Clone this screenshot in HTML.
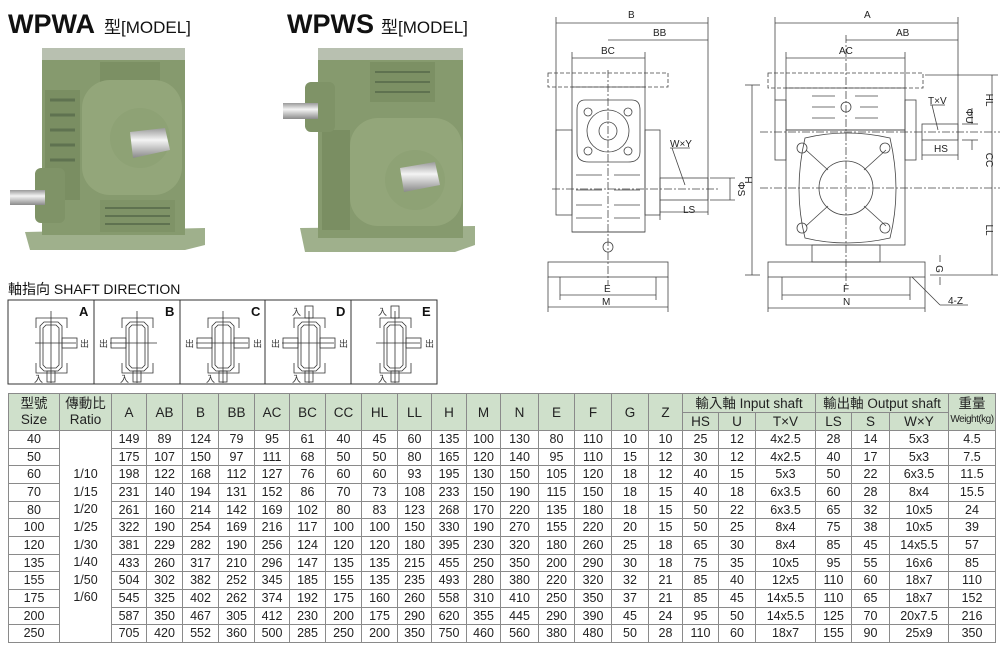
<!DOCTYPE html>
<html><head><meta charset="utf-8"><style>
body{margin:0;background:#fff;width:1000px;height:651px;overflow:hidden;position:relative;font-family:"Liberation Sans","Noto Sans CJK TC",sans-serif;}
svg{position:absolute;left:0;top:0}
table{position:absolute;left:8px;top:393px;border-collapse:collapse;table-layout:fixed;font-size:12.5px;color:#222}
td{border:1px solid #8a8a8a;text-align:center;padding:0;height:16.6px;line-height:15px;white-space:nowrap;overflow:hidden}
tr.h td{background:#cfe0cb;font-size:13.5px}
.sm{font-size:10px;letter-spacing:-0.5px}
.rat div{height:17.6px;line-height:17.6px}
</style></head><body>
<svg width="1000" height="651" viewBox="0 0 1000 651" font-family="Liberation Sans, Noto Sans CJK TC, sans-serif">
<defs>
<linearGradient id="sh" x1="0" y1="0" x2="0" y2="1"><stop offset="0" stop-color="#9a9a9a"/><stop offset=".4" stop-color="#f4f4f4"/><stop offset="1" stop-color="#8a8a8a"/></linearGradient>
<g id="gb" fill="none" stroke="#333" stroke-width="0.8">
<polyline points="-14,-15 -14,-25 17,-25 17,-15"/>
<polyline points="-14,20 -14,30 17,30 17,20"/>
<path d="M-6,-21 H8 L12,-17 V24 L8,28 H-6 L-10,24 V-17 Z"/>
<path d="M-4,-18 H6 L9,-15 V22 L6,25 H-4 L-7,22 V-15 Z"/>
<line x1="1" y1="-32" x2="1" y2="40"/>
</g>
</defs>
<!-- titles -->
<text x="8" y="33" font-size="27" font-weight="bold" fill="#111">WPWA</text>
<text x="104" y="33" font-size="17" fill="#111">型[MODEL]</text>
<text x="287" y="33" font-size="27" font-weight="bold" fill="#111">WPWS</text>
<text x="381" y="33" font-size="17" fill="#111">型[MODEL]</text>
<!-- left gearbox photo -->
<g>
<polygon points="25,232 205,228 205,245 185,250 30,250" fill="#9fb08c"/>
<rect x="42" y="55" width="143" height="180" fill="#869a6e"/>
<rect x="42" y="48" width="143" height="12" fill="#b8c0b0"/>
<rect x="100" y="62" width="60" height="22" fill="#7c9064"/>
<rect x="45" y="90" width="35" height="110" fill="#7a8e62"/>
<g stroke="#5f7250" stroke-width="3"><line x1="50" y1="100" x2="75" y2="100"/><line x1="50" y1="115" x2="75" y2="115"/><line x1="50" y1="130" x2="75" y2="130"/><line x1="50" y1="145" x2="75" y2="145"/><line x1="50" y1="160" x2="75" y2="160"/></g>
<rect x="82" y="80" width="100" height="115" rx="28" fill="#93a67a"/>
<circle cx="140" cy="138" r="30" fill="#8ea275"/>
<rect x="100" y="200" width="75" height="32" fill="#7f9367"/>
<g stroke="#5f7250" stroke-width="2"><line x1="105" y1="208" x2="170" y2="208"/><line x1="105" y1="216" x2="170" y2="216"/><line x1="105" y1="224" x2="170" y2="224"/></g>
<polygon points="130,132 165,128 170,150 133,158" fill="url(#sh)"/>
<rect x="35" y="168" width="30" height="55" rx="6" fill="#7f9367"/>
<rect x="10" y="190" width="35" height="15" fill="url(#sh)"/>
</g>
<!-- right gearbox photo -->
<g>
<polygon points="300,228 475,226 475,245 455,252 305,252" fill="#9fb08c"/>
<rect x="318" y="58" width="145" height="180" fill="#869a6e"/>
<rect x="318" y="48" width="145" height="12" fill="#b8c0b0"/>
<rect x="370" y="62" width="65" height="40" fill="#7c9064"/>
<g stroke="#5f7250" stroke-width="2"><line x1="375" y1="72" x2="430" y2="72"/><line x1="375" y1="82" x2="430" y2="82"/><line x1="375" y1="92" x2="430" y2="92"/></g>
<rect x="322" y="130" width="28" height="100" fill="#7a8e62"/>
<rect x="350" y="118" width="112" height="108" rx="28" fill="#93a67a"/>
<circle cx="415" cy="180" r="30" fill="#8ea275"/>
<polygon points="400,168 435,162 440,185 404,192" fill="url(#sh)"/>
<rect x="305" y="82" width="30" height="50" rx="6" fill="#7f9367"/>
<rect x="283" y="103" width="35" height="16" fill="url(#sh)"/>
</g>
<!-- shaft direction -->
<text x="8" y="294" font-size="14" fill="#111">軸指向 SHAFT DIRECTION</text>
<rect x="8" y="300" width="429" height="84" fill="none" stroke="#333" stroke-width="1"/>
<g stroke="#333" stroke-width="1"><line x1="94" y1="300" x2="94" y2="384"/><line x1="180" y1="300" x2="180" y2="384"/><line x1="265" y1="300" x2="265" y2="384"/><line x1="351" y1="300" x2="351" y2="384"/></g>
<g font-size="13" font-weight="bold" fill="#111"><text x="79" y="316">A</text><text x="165" y="316">B</text><text x="251" y="316">C</text><text x="336" y="316">D</text><text x="422" y="316">E</text></g>
<g font-size="9" fill="#333" stroke="none">
<!-- A -->
<use href="#gb" x="50" y="343"/>
<g fill="none" stroke="#333" stroke-width=".8"><line x1="35" y1="343" x2="76" y2="343"/><rect x="62" y="338" width="15" height="10"/><rect x="47" y="371" width="8" height="11"/></g>
<text x="80" y="347">出</text><text x="34" y="382">入</text>
<!-- B -->
<use href="#gb" x="136" y="343"/>
<g fill="none" stroke="#333" stroke-width=".8"><line x1="110" y1="343" x2="157" y2="343"/><rect x="111" y="338" width="15" height="10"/><rect x="133" y="371" width="8" height="11"/></g>
<text x="99" y="347">出</text><text x="120" y="382">入</text>
<!-- C -->
<use href="#gb" x="222" y="343"/>
<g fill="none" stroke="#333" stroke-width=".8"><line x1="196" y1="343" x2="248" y2="343"/><rect x="197" y="338" width="15" height="10"/><rect x="234" y="338" width="15" height="10"/><rect x="219" y="371" width="8" height="11"/></g>
<text x="185" y="347">出</text><text x="253" y="347">出</text><text x="206" y="382">入</text>
<!-- D -->
<use href="#gb" x="308" y="343"/>
<g fill="none" stroke="#333" stroke-width=".8"><line x1="282" y1="343" x2="334" y2="343"/><rect x="283" y="338" width="15" height="10"/><rect x="320" y="338" width="15" height="10"/><rect x="305" y="371" width="8" height="11"/><rect x="305" y="306" width="8" height="12"/></g>
<text x="271" y="347">出</text><text x="339" y="347">出</text><text x="292" y="382">入</text><text x="292" y="315">入</text>
<!-- E -->
<use href="#gb" x="394" y="343"/>
<g fill="none" stroke="#333" stroke-width=".8"><line x1="376" y1="343" x2="420" y2="343"/><rect x="406" y="338" width="15" height="10"/><rect x="391" y="371" width="8" height="11"/><rect x="391" y="306" width="8" height="12"/></g>
<text x="425" y="347">出</text><text x="378" y="382">入</text><text x="378" y="315">入</text>
</g>
<!-- front drawing -->
<g fill="none" stroke="#444" stroke-width="0.8">
<line x1="556" y1="17" x2="556" y2="160"/><line x1="708" y1="17" x2="708" y2="215"/>
<line x1="556" y1="23" x2="708" y2="23"/><line x1="608" y1="40" x2="708" y2="40"/><line x1="572" y1="58" x2="645" y2="58"/>
<line x1="572" y1="52" x2="572" y2="87"/><line x1="645" y1="52" x2="645" y2="87"/>
<rect x="548" y="73" width="120" height="14" stroke-dasharray="4 2"/>
<rect x="572" y="87" width="73" height="145"/>
<path d="M585,100 H632 Q640,100 640,110 V152 Q640,162 628,162 H589 Q577,162 577,152 V110 Q577,100 585,100 Z" fill="#fff"/>
<circle cx="608" cy="131" r="21"/><circle cx="608" cy="131" r="9"/>
<circle cx="588" cy="112" r="4"/><circle cx="628" cy="112" r="4"/><circle cx="588" cy="151" r="4"/><circle cx="628" cy="151" r="4"/>
<rect x="556" y="130" width="16" height="85"/><rect x="645" y="130" width="15" height="85"/>
<g><line x1="576" y1="175" x2="602" y2="175"/><line x1="614" y1="175" x2="640" y2="175"/><line x1="576" y1="190" x2="602" y2="190"/><line x1="614" y1="190" x2="640" y2="190"/><line x1="576" y1="205" x2="602" y2="205"/><line x1="614" y1="205" x2="640" y2="205"/><line x1="576" y1="218" x2="602" y2="218"/><line x1="614" y1="218" x2="640" y2="218"/></g>
<line x1="572" y1="232" x2="645" y2="232"/>
<rect x="548" y="262" width="120" height="15"/>
<circle cx="608" cy="247" r="5"/>
<rect x="660" y="178" width="48" height="22"/>
<line x1="608" y1="70" x2="608" y2="285" stroke-dasharray="8 2 2 2"/>
<line x1="552" y1="189" x2="720" y2="189" stroke-dasharray="8 2 2 2"/>
<line x1="710" y1="178" x2="735" y2="178"/><line x1="710" y1="200" x2="735" y2="200"/><line x1="730" y1="178" x2="730" y2="200"/>
<line x1="660" y1="212" x2="708" y2="212"/><line x1="660" y1="200" x2="660" y2="220"/>
<line x1="670" y1="148" x2="690" y2="148"/><line x1="672" y1="148" x2="685" y2="185"/>
<line x1="745" y1="85" x2="760" y2="85"/><line x1="745" y1="275" x2="760" y2="275"/><line x1="752" y1="85" x2="752" y2="275"/>
<line x1="548" y1="277" x2="548" y2="312"/><line x1="668" y1="277" x2="668" y2="312"/><line x1="560" y1="277" x2="560" y2="300"/><line x1="656" y1="277" x2="656" y2="300"/>
<line x1="560" y1="295" x2="656" y2="295"/><line x1="548" y1="307" x2="668" y2="307"/>
</g>
<g font-size="10" fill="#222">
<text x="628" y="18">B</text><text x="653" y="36">BB</text><text x="601" y="54">BC</text><text x="670" y="147">W×Y</text>
<text x="683" y="213">LS</text><text x="604" y="292">E</text><text x="602" y="305">M</text>
<text x="738" y="189" transform="rotate(90 738 189)" text-anchor="middle">ΦS</text>
<text x="745" y="180" transform="rotate(90 745 180)" text-anchor="middle">H</text>
</g>
<!-- side drawing -->
<g fill="none" stroke="#444" stroke-width="0.8">
<line x1="775" y1="17" x2="775" y2="100"/><line x1="958" y1="17" x2="958" y2="160"/>
<line x1="775" y1="23" x2="958" y2="23"/><line x1="846" y1="40" x2="958" y2="40"/><line x1="786" y1="58" x2="905" y2="58"/>
<line x1="786" y1="52" x2="786" y2="88"/><line x1="905" y1="52" x2="905" y2="88"/>
<rect x="768" y="73" width="155" height="15" stroke-dasharray="4 2"/>
<rect x="786" y="88" width="119" height="42"/>
<g><line x1="812" y1="96" x2="835" y2="96"/><line x1="855" y1="96" x2="878" y2="96"/><line x1="812" y1="107" x2="835" y2="107"/><line x1="860" y1="107" x2="878" y2="107"/><line x1="812" y1="118" x2="835" y2="118"/><line x1="855" y1="118" x2="878" y2="118"/></g>
<circle cx="846" cy="107" r="5"/>
<rect x="775" y="100" width="11" height="60"/><rect x="905" y="100" width="11" height="60"/>
<rect x="786" y="130" width="119" height="115"/>
<path d="M805,138 Q846,128 890,138 Q902,190 890,238 Q846,248 805,238 Q793,190 805,138 Z" fill="#fff"/>
<circle cx="846" cy="188" r="27"/>
<line x1="806" y1="150" x2="828" y2="170"/><line x1="886" y1="150" x2="864" y2="170"/><line x1="806" y1="226" x2="828" y2="206"/><line x1="886" y1="226" x2="864" y2="206"/>
<circle cx="802" cy="148" r="5"/><circle cx="885" cy="148" r="5"/><circle cx="802" cy="228" r="5"/><circle cx="885" cy="228" r="5"/>
<rect x="812" y="245" width="68" height="17"/>
<rect x="768" y="262" width="157" height="15"/>
<rect x="922" y="124" width="36" height="16"/>
<line x1="846" y1="35" x2="846" y2="285" stroke-dasharray="8 2 2 2"/>
<line x1="760" y1="132" x2="1000" y2="132" stroke-dasharray="8 2 2 2"/>
<line x1="760" y1="188" x2="1000" y2="188" stroke-dasharray="8 2 2 2"/>
<line x1="925" y1="75" x2="998" y2="75"/><line x1="930" y1="275" x2="998" y2="275"/>
<line x1="992" y1="75" x2="992" y2="275"/>
<line x1="972" y1="108" x2="972" y2="124"/><line x1="972" y1="140" x2="972" y2="150"/><line x1="962" y1="124" x2="978" y2="124"/><line x1="962" y1="140" x2="978" y2="140"/>
<line x1="922" y1="155" x2="958" y2="155"/><line x1="922" y1="140" x2="922" y2="160"/>
<line x1="930" y1="105" x2="945" y2="105"/><line x1="932" y1="105" x2="938" y2="130"/>
<line x1="940" y1="255" x2="940" y2="262"/><line x1="940" y1="277" x2="940" y2="285"/>
<line x1="782" y1="277" x2="782" y2="300"/><line x1="910" y1="277" x2="910" y2="300"/>
<line x1="768" y1="277" x2="768" y2="312"/><line x1="925" y1="277" x2="925" y2="312"/>
<line x1="782" y1="295" x2="910" y2="295"/><line x1="768" y1="308" x2="925" y2="308"/>
<line x1="912" y1="277" x2="940" y2="305"/><line x1="940" y1="305" x2="968" y2="305"/>
</g>
<g font-size="10" fill="#222">
<text x="864" y="18">A</text><text x="896" y="36">AB</text><text x="839" y="54">AC</text><text x="928" y="104">T×V</text>
<text x="934" y="152">HS</text><text x="843" y="292">F</text><text x="843" y="305">N</text><text x="948" y="304">4-Z</text>
<text x="986" y="100" transform="rotate(90 986 100)" text-anchor="middle">HL</text>
<text x="986" y="160" transform="rotate(90 986 160)" text-anchor="middle">CC</text>
<text x="986" y="230" transform="rotate(90 986 230)" text-anchor="middle">LL</text>
<text x="966" y="116" transform="rotate(90 966 116)" text-anchor="middle">ΦU</text>
<text x="936" y="269" transform="rotate(90 936 269)" text-anchor="middle">G</text>
</g>
</svg>
<table>
<colgroup><col style="width:51px"><col style="width:52px"><col style="width:35px"><col style="width:36px"><col style="width:36px"><col style="width:36px"><col style="width:35px"><col style="width:36px"><col style="width:36px"><col style="width:36px"><col style="width:34px"><col style="width:35px"><col style="width:34px"><col style="width:38px"><col style="width:36px"><col style="width:37px"><col style="width:37px"><col style="width:34px"><col style="width:36px"><col style="width:37px"><col style="width:60px"><col style="width:36px"><col style="width:38px"><col style="width:59px"><col style="width:47px"></colgroup>
<tr class="h" style="height:19px"><td rowspan="2" style="line-height:16px">型號<br>Size</td><td rowspan="2" style="line-height:16px">傳動比<br>Ratio</td><td rowspan="2">A</td><td rowspan="2">AB</td><td rowspan="2">B</td><td rowspan="2">BB</td><td rowspan="2">AC</td><td rowspan="2">BC</td><td rowspan="2">CC</td><td rowspan="2">HL</td><td rowspan="2">LL</td><td rowspan="2">H</td><td rowspan="2">M</td><td rowspan="2">N</td><td rowspan="2">E</td><td rowspan="2">F</td><td rowspan="2">G</td><td rowspan="2">Z</td><td colspan="3">輸入軸 Input shaft</td><td colspan="3">輸出軸 Output shaft</td><td rowspan="2" style="line-height:14px">重量<br><span class="sm">Weight(kg)</span></td></tr>
<tr class="h" style="height:18px"><td>HS</td><td>U</td><td>T×V</td><td>LS</td><td>S</td><td>W×Y</td></tr>
<tr><td>40</td><td rowspan="12" class="rat" style="vertical-align:top"><div></div><div></div><div>1/10</div><div>1/15</div><div>1/20</div><div>1/25</div><div>1/30</div><div>1/40</div><div>1/50</div><div>1/60</div><div></div><div></div></td><td>149</td><td>89</td><td>124</td><td>79</td><td>95</td><td>61</td><td>40</td><td>45</td><td>60</td><td>135</td><td>100</td><td>130</td><td>80</td><td>110</td><td>10</td><td>10</td><td>25</td><td>12</td><td>4x2.5</td><td>28</td><td>14</td><td>5x3</td><td>4.5</td></tr>
<tr><td>50</td><td>175</td><td>107</td><td>150</td><td>97</td><td>111</td><td>68</td><td>50</td><td>50</td><td>80</td><td>165</td><td>120</td><td>140</td><td>95</td><td>110</td><td>15</td><td>12</td><td>30</td><td>12</td><td>4x2.5</td><td>40</td><td>17</td><td>5x3</td><td>7.5</td></tr>
<tr><td>60</td><td>198</td><td>122</td><td>168</td><td>112</td><td>127</td><td>76</td><td>60</td><td>60</td><td>93</td><td>195</td><td>130</td><td>150</td><td>105</td><td>120</td><td>18</td><td>12</td><td>40</td><td>15</td><td>5x3</td><td>50</td><td>22</td><td>6x3.5</td><td>11.5</td></tr>
<tr><td>70</td><td>231</td><td>140</td><td>194</td><td>131</td><td>152</td><td>86</td><td>70</td><td>73</td><td>108</td><td>233</td><td>150</td><td>190</td><td>115</td><td>150</td><td>18</td><td>15</td><td>40</td><td>18</td><td>6x3.5</td><td>60</td><td>28</td><td>8x4</td><td>15.5</td></tr>
<tr><td>80</td><td>261</td><td>160</td><td>214</td><td>142</td><td>169</td><td>102</td><td>80</td><td>83</td><td>123</td><td>268</td><td>170</td><td>220</td><td>135</td><td>180</td><td>18</td><td>15</td><td>50</td><td>22</td><td>6x3.5</td><td>65</td><td>32</td><td>10x5</td><td>24</td></tr>
<tr><td>100</td><td>322</td><td>190</td><td>254</td><td>169</td><td>216</td><td>117</td><td>100</td><td>100</td><td>150</td><td>330</td><td>190</td><td>270</td><td>155</td><td>220</td><td>20</td><td>15</td><td>50</td><td>25</td><td>8x4</td><td>75</td><td>38</td><td>10x5</td><td>39</td></tr>
<tr><td>120</td><td>381</td><td>229</td><td>282</td><td>190</td><td>256</td><td>124</td><td>120</td><td>120</td><td>180</td><td>395</td><td>230</td><td>320</td><td>180</td><td>260</td><td>25</td><td>18</td><td>65</td><td>30</td><td>8x4</td><td>85</td><td>45</td><td>14x5.5</td><td>57</td></tr>
<tr><td>135</td><td>433</td><td>260</td><td>317</td><td>210</td><td>296</td><td>147</td><td>135</td><td>135</td><td>215</td><td>455</td><td>250</td><td>350</td><td>200</td><td>290</td><td>30</td><td>18</td><td>75</td><td>35</td><td>10x5</td><td>95</td><td>55</td><td>16x6</td><td>85</td></tr>
<tr><td>155</td><td>504</td><td>302</td><td>382</td><td>252</td><td>345</td><td>185</td><td>155</td><td>135</td><td>235</td><td>493</td><td>280</td><td>380</td><td>220</td><td>320</td><td>32</td><td>21</td><td>85</td><td>40</td><td>12x5</td><td>110</td><td>60</td><td>18x7</td><td>110</td></tr>
<tr><td>175</td><td>545</td><td>325</td><td>402</td><td>262</td><td>374</td><td>192</td><td>175</td><td>160</td><td>260</td><td>558</td><td>310</td><td>410</td><td>250</td><td>350</td><td>37</td><td>21</td><td>85</td><td>45</td><td>14x5.5</td><td>110</td><td>65</td><td>18x7</td><td>152</td></tr>
<tr><td>200</td><td>587</td><td>350</td><td>467</td><td>305</td><td>412</td><td>230</td><td>200</td><td>175</td><td>290</td><td>620</td><td>355</td><td>445</td><td>290</td><td>390</td><td>45</td><td>24</td><td>95</td><td>50</td><td>14x5.5</td><td>125</td><td>70</td><td>20x7.5</td><td>216</td></tr>
<tr><td>250</td><td>705</td><td>420</td><td>552</td><td>360</td><td>500</td><td>285</td><td>250</td><td>200</td><td>350</td><td>750</td><td>460</td><td>560</td><td>380</td><td>480</td><td>50</td><td>28</td><td>110</td><td>60</td><td>18x7</td><td>155</td><td>90</td><td>25x9</td><td>350</td></tr>
</table>
</body></html>
